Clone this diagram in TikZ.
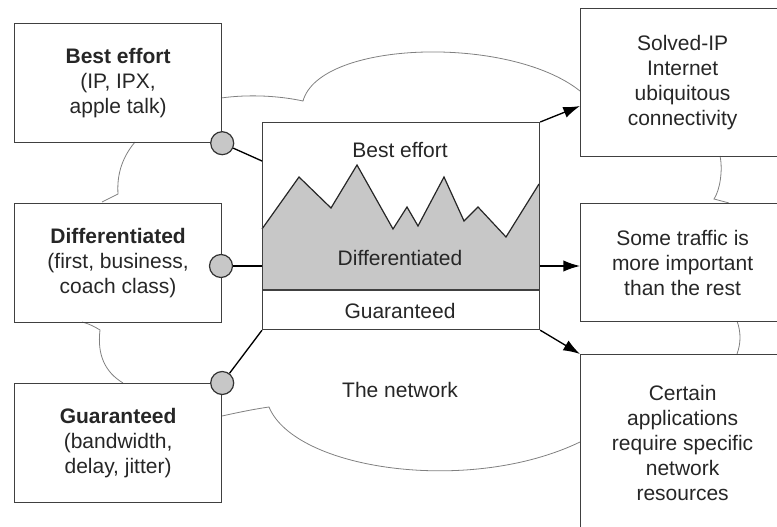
\documentclass[tikz,border=0pt]{standalone}
\usepackage{fontspec}
\setmainfont{Liberation Sans}
\usetikzlibrary{arrows.meta}
\newcommand{\pxu}{0.75pt}

\begin{document}
\begin{tikzpicture}[x=\pxu, y=-\pxu,
    rect/.style={draw=black!75, line width=0.9pt, rectangle, anchor=north west, inner sep=0pt, align=center, text=black!85, font=\fontsize{15.75}{18.75}\selectfont},
    txt/.style={inner sep=0pt, align=center, text=black!85, font=\fontsize{15.75}{18.75}\selectfont},
    knob/.style={draw=black!80, line width=0.9pt, circle, fill=black!22, minimum size=17.25pt, inner sep=0pt},
    netedge/.style={draw=black!50, line width=0.6pt},
    link/.style={draw=black, line width=1pt},
    arr/.style={draw=black, line width=1pt, -{Latex[length=12.5pt,width=8.5pt]}}]
    \useasboundingbox (0,0) rectangle (777,527);
    \clip (0,0) rectangle (777,527);

    % The network (cloud outline)
    \draw[netedge] (221,98) .. controls (250,94) and (280,96) .. (303,101)
        .. controls (320,40) and (510,35) .. (580,91);
    \draw[netedge] (135,142) .. controls (120,160) and (117,178) .. (118,194) -- (102,202);
    \draw[netedge] (82,322) .. controls (90,324) and (95,327) .. (100,330)
        .. controls (97,355) and (105,372) .. (123,383);
    \draw[netedge] (222,416) .. controls (240,412) and (255,409) .. (269,407)
        .. controls (295,470) and (470,495) .. (580,442);
    \draw[netedge] (720,156) .. controls (723,170) and (720,190) .. (714,199) -- (729,203);
    \draw[netedge] (737,321) .. controls (741,332) and (741,343) .. (737,354);

    % Left column
    \node[rect, minimum width=207*\pxu, minimum height=119*\pxu] (best) at (14,23) {\textbf{Best effort}\\(IP, IPX,\\apple talk)};
    \node[rect, minimum width=207*\pxu, minimum height=119*\pxu] (diff) at (14,203) {\textbf{Differentiated}\\(first, business,\\coach class)};
    \node[rect, minimum width=207*\pxu, minimum height=119*\pxu] (guar) at (14,383) {\textbf{Guaranteed}\\(bandwidth,\\delay, jitter)};

    % Right column
    \node[rect, minimum width=204*\pxu, minimum height=148*\pxu] (ra) at (580,8) {Solved-IP\\Internet\\ubiquitous\\connectivity};
    \node[rect, minimum width=204*\pxu, minimum height=118*\pxu] (rb) at (580,203) {Some traffic is\\more important\\than the rest};
    \node[rect, minimum width=204*\pxu, minimum height=176*\pxu] (rc) at (580,354) {Certain\\applications\\require specific\\network\\resources};

    % Middle box
    \fill[black!22] (262,290) -- (262,229) -- (299,177) -- (331,208) -- (357,165) -- (393,229) -- (407,207)
        -- (418,226) -- (444,177) -- (464,221) -- (478,207) -- (506,237) -- (539,184) -- (539,290) -- cycle;
    \draw[line width=0.9pt, black!85] (262,229) -- (299,177) -- (331,208) -- (357,165) -- (393,229) -- (407,207)
        -- (418,226) -- (444,177) -- (464,221) -- (478,207) -- (506,237) -- (539,184);
    \node[rect, minimum width=277*\pxu, minimum height=207*\pxu] (qos) at (262,122) {};
    \draw[line width=0.9pt, black!75] (262,290) -- (539,290);
    \node[txt] (lbest) at (400,150) {Best effort};
    \node[txt] (ldiff) at (400,258) {Differentiated};
    \node[txt] (lguar) at (400,311) {Guaranteed};
    \node[txt] (lnet) at (400,390) {The network};

    % Knobs
    \node[knob] (k1) at (best.south east) {};
    \node[knob] (k2) at (221,266) {};
    \node[knob] (k3) at (guar.north east) {};
    \coordinate (in1) at (262,161);
    \draw[link] (k1) -- (in1);
    \draw[link] (k2) -- (qos.west |- k2);
    \draw[link] (k3) -- (qos.south west);

    % Arrows
    \coordinate (ta) at (580,106);
    \draw[arr] (qos.north east) -- (ta);
    \draw[arr] (qos.east |- k2) -- (rb.west |- k2);
    \draw[arr] (qos.south east) -- (rc.north west);
\end{tikzpicture}
\end{document}
